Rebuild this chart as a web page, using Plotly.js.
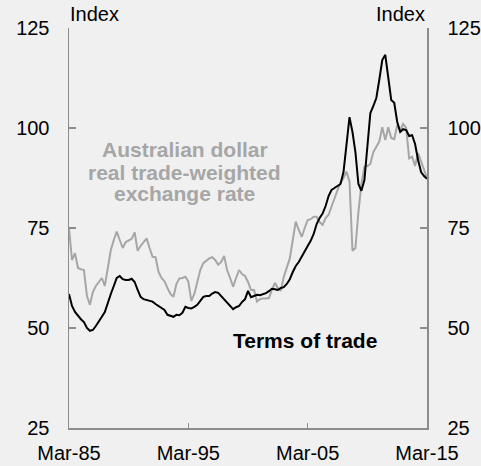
<!DOCTYPE html>
<html>
<head>
<meta charset="utf-8">
<script src="https://cdn.plot.ly/plotly-3.0.1.min.js"></script>
<style>
html,body{margin:0;padding:0;background:#f0f0f0;}
#chart{width:481px;height:466px;}
</style>
</head>
<body>
<div id="chart"></div>
<script>
// Quarterly observations, Mar-1985 to Mar-2015 (121 quarters)
const startYear = 1985;
const nQuarters = 121;

// Terms of trade index (black)
const termsOfTrade = [
  58.5, 55.5, 54.0, 53.0, 52.2, 51.5, 50.0, 49.3, 49.5, 50.5,
  51.8, 52.8, 54.0, 56.0, 58.5, 60.5, 62.5, 63.0, 62.2, 62.0,
  62.0, 62.3, 61.5, 59.5, 57.8, 57.2, 57.0, 56.8, 56.6, 56.0,
  55.5, 55.0, 54.5, 53.3, 53.0, 52.8, 53.3, 53.2, 53.8, 55.3,
  55.0, 54.9, 55.3, 55.8, 56.8, 57.8, 58.0, 58.0, 58.6, 59.0,
  58.8, 58.0, 57.0, 56.2, 55.5, 54.7, 55.2, 55.5, 56.5, 57.2,
  59.3, 57.7, 58.0, 58.3, 58.2, 58.5, 58.7, 59.2, 59.8, 59.7,
  59.5, 60.0, 60.2, 61.0, 62.2, 64.0, 65.5, 66.5, 68.0, 69.2,
  70.5, 71.8, 73.5, 76.0, 77.5, 78.6, 80.5, 83.0, 84.5, 85.0,
  85.5, 86.0, 89.0, 96.0, 102.7, 99.0, 94.0, 86.0, 84.3, 87.0,
  95.5, 103.7, 105.5, 107.5, 112.0, 117.0, 118.3, 112.0, 107.0, 106.3,
  101.5, 99.0, 99.7, 99.5, 98.0, 98.2, 96.0, 92.0, 89.0, 88.0,
  87.3
];

// Australian dollar real trade-weighted exchange rate (grey)
const realTWI = [
  75.0, 67.0, 68.7, 65.0, 64.7, 64.5, 58.0, 55.8, 59.0, 60.5,
  61.5, 62.5, 60.5, 65.0, 69.5, 72.0, 74.1, 72.0, 70.0, 71.5,
  72.0, 72.3, 73.9, 69.3, 70.5, 71.5, 72.4, 70.0, 67.8, 67.7,
  64.0, 62.5, 61.7, 60.0, 58.5, 57.8, 61.0, 62.4, 62.5, 62.8,
  61.6, 56.8, 58.5, 61.5, 64.5, 66.2, 66.8, 67.4, 67.7, 67.0,
  65.8, 66.5, 68.0, 64.5, 62.5, 60.3, 62.5, 64.5, 63.5, 63.0,
  61.5, 59.5, 59.5, 56.6, 57.2, 57.4, 57.4, 57.5, 59.5, 61.3,
  60.0, 59.3, 62.8, 65.0, 67.4, 72.0, 76.6, 74.5, 72.8, 75.0,
  77.0, 77.2, 77.8, 77.8, 76.5, 75.8, 77.5, 78.3, 80.5, 82.5,
  84.5, 86.3, 87.5, 89.1, 86.6, 69.3, 70.0, 79.0, 86.0, 90.3,
  90.5, 91.0, 94.0, 95.3, 96.6, 100.2, 97.0, 100.2, 97.5, 97.2,
  100.7, 99.5, 101.0, 100.0, 92.4, 92.8, 90.5, 93.7, 91.6, 89.0,
  87.5
];

const tickDates = ["1985-03-01", "1995-03-01", "2005-03-01", "2015-03-01"];
const tickLabels = ["Mar-85", "Mar-95", "Mar-05", "Mar-15"];
const yTicks = [25, 50, 75, 100, 125];

// quarter dates (March, June, September, December)
const quarters = [];
for (let i = 0; i < nQuarters; i++) {
  const m = 2 + 3 * i;
  const yr = startYear + Math.floor(m / 12);
  const mo = (m % 12) + 1;
  quarters.push(yr + "-" + String(mo).padStart(2, "0") + "-01");
}

const FONT = "Arial, 'Liberation Sans', sans-serif";
const AXIS = "#8c8c8c";
const GREY = "#a6a6a6";

const traces = [
  {x: quarters, y: realTWI, type: "scatter", mode: "lines",
   line: {color: GREY, width: 2}, hoverinfo: "skip", showlegend: false},
  {x: quarters, y: termsOfTrade, type: "scatter", mode: "lines",
   line: {color: "#000000", width: 2}, hoverinfo: "skip", showlegend: false},
  {x: quarters, y: termsOfTrade, type: "scatter", mode: "lines", yaxis: "y2",
   line: {color: "rgba(0,0,0,0)", width: 0}, hoverinfo: "skip", showlegend: false}
];

const yCommon = {
  range: [25, 125], tickvals: yTicks, ticktext: yTicks.map(String),
  ticks: "inside", ticklen: 7, tickwidth: 1.5, tickcolor: AXIS,
  showline: true, linecolor: AXIS, linewidth: 1.5,
  showgrid: false, zeroline: false,
  tickfont: {family: FONT, size: 20, color: "#000"}, fixedrange: true
};

const layout = {
  width: 481, height: 466,
  margin: {l: 69, r: 54, t: 28, b: 38, pad: 0},
  paper_bgcolor: "#f0f0f0", plot_bgcolor: "#f0f0f0",
  font: {family: FONT, size: 20, color: "#000"},
  xaxis: {
    type: "date", range: ["1985-03-01", "2015-03-01"],
    tickvals: tickDates, ticktext: tickLabels,
    ticks: "inside", ticklen: 5, tickwidth: 1.5, tickcolor: AXIS,
    showline: true, linecolor: AXIS, linewidth: 1.5,
    showgrid: false, zeroline: false,
    tickfont: {family: FONT, size: 20, color: "#000"}, ticklabelstandoff: 6, fixedrange: true
  },
  yaxis: Object.assign({}, yCommon, {side: "left", ticklabelstandoff: 14}),
  yaxis2: Object.assign({}, yCommon, {side: "right", overlaying: "y", anchor: "x", ticklabelstandoff: 15}),
  annotations: [
    {text: "Index", xref: "paper", yref: "paper", x: -0.004, y: 1.035, xanchor: "left", yanchor: "middle",
     showarrow: false, font: {family: FONT, size: 20, color: "#000"}},
    {text: "Index", xref: "paper", yref: "paper", x: 1.0, y: 1.035, xanchor: "right", yanchor: "middle",
     showarrow: false, font: {family: FONT, size: 20, color: "#000"}},
    {text: "<b>Australian dollar</b>", xref: "paper", yref: "paper", x: 0.324, y: 0.6975, xanchor: "center", yanchor: "middle",
     showarrow: false, font: {family: FONT, size: 21, color: GREY}},
    {text: "<b>real trade-weighted</b>", xref: "paper", yref: "paper", x: 0.324, y: 0.639, xanchor: "center", yanchor: "middle",
     showarrow: false, font: {family: FONT, size: 21, color: GREY}},
    {text: "<b>exchange rate</b>", xref: "paper", yref: "paper", x: 0.324, y: 0.5858, xanchor: "center", yanchor: "middle",
     showarrow: false, font: {family: FONT, size: 21, color: GREY}},
    {text: "<b>Terms of trade</b>", xref: "paper", yref: "paper", x: 0.6606, y: 0.2195, xanchor: "center", yanchor: "middle",
     showarrow: false, font: {family: FONT, size: 21, color: "#000"}}
  ]
};

Plotly.newPlot("chart", traces, layout, {staticPlot: true, displayModeBar: false});
</script>
</body>
</html>
